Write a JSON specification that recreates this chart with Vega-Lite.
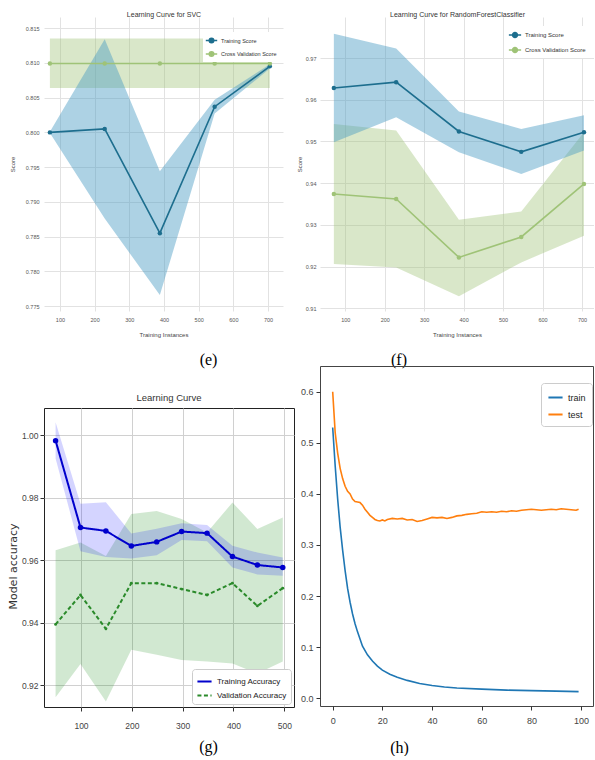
{
  "$schema": "https://vega.github.io/schema/vega-lite/v6.json",
  "padding": {"left": 6, "top": 10, "right": 0, "bottom": 0},
  "background": "white",
  "spacing": 1,
  "resolve": {"scale": {"color": "independent", "strokeDash": "independent"}, "legend": {"color": "independent", "strokeDash": "independent"}},
  "datasets": {
    "e": [
      {"s": "Training Score", "x": 71, "m": 0.8000, "lo": 0.7999, "hi": 0.8001},
      {"s": "Training Score", "x": 229, "m": 0.8005, "lo": 0.7876, "hi": 0.8134},
      {"s": "Training Score", "x": 388, "m": 0.7855, "lo": 0.7766, "hi": 0.7944},
      {"s": "Training Score", "x": 546, "m": 0.8037, "lo": 0.8027, "hi": 0.8047},
      {"s": "Training Score", "x": 705, "m": 0.8095, "lo": 0.8092, "hi": 0.8098},
      {"s": "Cross Validation Score", "x": 71, "m": 0.8099, "lo": 0.8064, "hi": 0.8135},
      {"s": "Cross Validation Score", "x": 229, "m": 0.8099, "lo": 0.8064, "hi": 0.8135},
      {"s": "Cross Validation Score", "x": 388, "m": 0.8099, "lo": 0.8064, "hi": 0.8135},
      {"s": "Cross Validation Score", "x": 546, "m": 0.8099, "lo": 0.8064, "hi": 0.8135},
      {"s": "Cross Validation Score", "x": 705, "m": 0.8099, "lo": 0.8064, "hi": 0.8135}
    ],
    "f": [
      {"s": "Training Score", "x": 71, "m": 0.9628, "lo": 0.9498, "hi": 0.9758},
      {"s": "Training Score", "x": 229, "m": 0.9642, "lo": 0.9558, "hi": 0.9723},
      {"s": "Training Score", "x": 388, "m": 0.9524, "lo": 0.9474, "hi": 0.9572},
      {"s": "Training Score", "x": 546, "m": 0.9475, "lo": 0.9422, "hi": 0.9530},
      {"s": "Training Score", "x": 705, "m": 0.9522, "lo": 0.9478, "hi": 0.9563},
      {"s": "Cross Validation Score", "x": 71, "m": 0.9374, "lo": 0.9206, "hi": 0.9542},
      {"s": "Cross Validation Score", "x": 229, "m": 0.9362, "lo": 0.9198, "hi": 0.9526},
      {"s": "Cross Validation Score", "x": 388, "m": 0.9222, "lo": 0.9129, "hi": 0.9312},
      {"s": "Cross Validation Score", "x": 546, "m": 0.9271, "lo": 0.9210, "hi": 0.9332},
      {"s": "Cross Validation Score", "x": 705, "m": 0.9398, "lo": 0.9274, "hi": 0.9522}
    ],
    "g": [
      {"s": "Training Accuracy", "x": 50, "m": 0.9982, "lo": 0.9925, "hi": 1.0041},
      {"s": "Training Accuracy", "x": 99, "m": 0.9704, "lo": 0.9628, "hi": 0.9780},
      {"s": "Training Accuracy", "x": 149, "m": 0.9693, "lo": 0.9610, "hi": 0.9785},
      {"s": "Training Accuracy", "x": 199, "m": 0.9645, "lo": 0.9605, "hi": 0.9685},
      {"s": "Training Accuracy", "x": 249, "m": 0.9658, "lo": 0.9615, "hi": 0.9700},
      {"s": "Training Accuracy", "x": 298, "m": 0.9691, "lo": 0.9664, "hi": 0.9718},
      {"s": "Training Accuracy", "x": 348, "m": 0.9686, "lo": 0.9660, "hi": 0.9712},
      {"s": "Training Accuracy", "x": 398, "m": 0.9611, "lo": 0.9576, "hi": 0.9646},
      {"s": "Training Accuracy", "x": 447, "m": 0.9584, "lo": 0.9554, "hi": 0.9624},
      {"s": "Training Accuracy", "x": 497, "m": 0.9576, "lo": 0.9550, "hi": 0.9608},
      {"s": "Validation Accuracy", "x": 50, "m": 0.9394, "lo": 0.9161, "hi": 0.9631},
      {"s": "Validation Accuracy", "x": 99, "m": 0.9488, "lo": 0.9267, "hi": 0.9656},
      {"s": "Validation Accuracy", "x": 149, "m": 0.9380, "lo": 0.9147, "hi": 0.9613},
      {"s": "Validation Accuracy", "x": 199, "m": 0.9526, "lo": 0.9313, "hi": 0.9747},
      {"s": "Validation Accuracy", "x": 249, "m": 0.9526, "lo": 0.9297, "hi": 0.9757},
      {"s": "Validation Accuracy", "x": 298, "m": 0.9507, "lo": 0.9280, "hi": 0.9731},
      {"s": "Validation Accuracy", "x": 348, "m": 0.9488, "lo": 0.9275, "hi": 0.9688},
      {"s": "Validation Accuracy", "x": 398, "m": 0.9526, "lo": 0.9269, "hi": 0.9784},
      {"s": "Validation Accuracy", "x": 447, "m": 0.9453, "lo": 0.9237, "hi": 0.9699},
      {"s": "Validation Accuracy", "x": 497, "m": 0.9510, "lo": 0.9275, "hi": 0.9736}
    ],
    "h": [
      {"s": "train", "x": 0, "y": 0.530}, {"s": "train", "x": 1, "y": 0.455}, {"s": "train", "x": 2, "y": 0.390},
      {"s": "train", "x": 3, "y": 0.335}, {"s": "train", "x": 4, "y": 0.290}, {"s": "train", "x": 5, "y": 0.250},
      {"s": "train", "x": 6, "y": 0.215}, {"s": "train", "x": 7, "y": 0.188}, {"s": "train", "x": 8, "y": 0.165},
      {"s": "train", "x": 9, "y": 0.146}, {"s": "train", "x": 10, "y": 0.130}, {"s": "train", "x": 12, "y": 0.102},
      {"s": "train", "x": 14, "y": 0.085}, {"s": "train", "x": 16, "y": 0.073}, {"s": "train", "x": 18, "y": 0.063},
      {"s": "train", "x": 20, "y": 0.055}, {"s": "train", "x": 23, "y": 0.047}, {"s": "train", "x": 26, "y": 0.041},
      {"s": "train", "x": 30, "y": 0.035}, {"s": "train", "x": 35, "y": 0.029}, {"s": "train", "x": 40, "y": 0.025},
      {"s": "train", "x": 45, "y": 0.022}, {"s": "train", "x": 50, "y": 0.020}, {"s": "train", "x": 60, "y": 0.018},
      {"s": "train", "x": 70, "y": 0.016}, {"s": "train", "x": 80, "y": 0.015}, {"s": "train", "x": 90, "y": 0.014},
      {"s": "train", "x": 99, "y": 0.013},
      {"s": "test", "x": 0, "y": 0.600}, {"s": "test", "x": 1, "y": 0.520}, {"s": "test", "x": 2, "y": 0.480},
      {"s": "test", "x": 3, "y": 0.450}, {"s": "test", "x": 4, "y": 0.430}, {"s": "test", "x": 5, "y": 0.415},
      {"s": "test", "x": 6, "y": 0.405}, {"s": "test", "x": 7, "y": 0.400}, {"s": "test", "x": 8, "y": 0.390},
      {"s": "test", "x": 9, "y": 0.385}, {"s": "test", "x": 10, "y": 0.384}, {"s": "test", "x": 11, "y": 0.383},
      {"s": "test", "x": 12, "y": 0.378}, {"s": "test", "x": 13, "y": 0.370}, {"s": "test", "x": 14, "y": 0.364},
      {"s": "test", "x": 15, "y": 0.358}, {"s": "test", "x": 16, "y": 0.354}, {"s": "test", "x": 17, "y": 0.350},
      {"s": "test", "x": 18, "y": 0.348}, {"s": "test", "x": 19, "y": 0.347}, {"s": "test", "x": 20, "y": 0.349},
      {"s": "test", "x": 21, "y": 0.347}, {"s": "test", "x": 22, "y": 0.350}, {"s": "test", "x": 24, "y": 0.352},
      {"s": "test", "x": 26, "y": 0.351}, {"s": "test", "x": 28, "y": 0.352}, {"s": "test", "x": 30, "y": 0.349},
      {"s": "test", "x": 32, "y": 0.350}, {"s": "test", "x": 34, "y": 0.346}, {"s": "test", "x": 36, "y": 0.348},
      {"s": "test", "x": 38, "y": 0.351}, {"s": "test", "x": 40, "y": 0.354}, {"s": "test", "x": 42, "y": 0.353},
      {"s": "test", "x": 44, "y": 0.354}, {"s": "test", "x": 46, "y": 0.352}, {"s": "test", "x": 48, "y": 0.354},
      {"s": "test", "x": 50, "y": 0.357}, {"s": "test", "x": 52, "y": 0.358}, {"s": "test", "x": 54, "y": 0.360},
      {"s": "test", "x": 56, "y": 0.361}, {"s": "test", "x": 58, "y": 0.362}, {"s": "test", "x": 60, "y": 0.365},
      {"s": "test", "x": 62, "y": 0.364}, {"s": "test", "x": 64, "y": 0.365}, {"s": "test", "x": 66, "y": 0.364},
      {"s": "test", "x": 68, "y": 0.366}, {"s": "test", "x": 70, "y": 0.365}, {"s": "test", "x": 72, "y": 0.367},
      {"s": "test", "x": 74, "y": 0.366}, {"s": "test", "x": 76, "y": 0.368}, {"s": "test", "x": 78, "y": 0.369},
      {"s": "test", "x": 80, "y": 0.370}, {"s": "test", "x": 82, "y": 0.369}, {"s": "test", "x": 84, "y": 0.368},
      {"s": "test", "x": 86, "y": 0.369}, {"s": "test", "x": 88, "y": 0.370}, {"s": "test", "x": 90, "y": 0.369},
      {"s": "test", "x": 92, "y": 0.371}, {"s": "test", "x": 94, "y": 0.370}, {"s": "test", "x": 96, "y": 0.369},
      {"s": "test", "x": 98, "y": 0.368}, {"s": "test", "x": 99, "y": 0.370}
    ]
  },
  "hconcat": [
    {
      "bounds": "flush",
      "spacing": 97,
      "resolve": {"scale": {"color": "independent", "strokeDash": "independent"}, "legend": {"color": "independent", "strokeDash": "independent"}},
      "vconcat": [
        {
          "width": 239, "height": 294,
          "data": {"name": "e"},
          "view": {"stroke": null},
          "title": {"text": "(e)", "orient": "bottom", "anchor": "middle", "frame": "group", "dx": 45, "offset": 15, "font": "Liberation Serif", "fontSize": 16, "fontWeight": "normal", "color": "#000"},
          "resolve": {"axis": {"x": "independent"}},
          "layer": [
            {
              "transform": [{"filter": "datum.s === 'Cross Validation Score'"}],
              "mark": {"type": "area", "color": "#9fc377", "opacity": 0.4},
              "encoding": {
                "x": {"field": "x", "type": "quantitative", "scale": {"domain": [54, 743], "nice": false, "zero": false},
                  "axis": {"values": [100, 200, 300, 400, 500, 600, 700], "tickCount": 50, "format": "d", "title": "Training Instances", "grid": true, "gridColor": "#e2e2e2", "domain": false, "ticks": false, "labelOverlap": false, "labelFontSize": 5.5, "labelColor": "#555", "labelFont": "Liberation Sans", "labelPadding": 6.5, "titleFont": "Liberation Sans", "titleFontSize": 6, "titleFontWeight": "normal", "titleColor": "#444", "titlePadding": 8}},
                "y": {"field": "lo", "type": "quantitative", "scale": {"domain": [0.7743, 0.8166], "nice": false, "zero": false},
                  "axis": {"values": [0.775, 0.78, 0.785, 0.79, 0.795, 0.8, 0.805, 0.81, 0.815], "tickCount": 50, "format": ".3f", "title": "Score", "grid": true, "gridColor": "#e2e2e2", "domain": false, "ticks": false, "labelOverlap": false, "labelFontSize": 5.5, "labelColor": "#555", "labelFont": "Liberation Sans", "labelPadding": 5, "titleFont": "Liberation Sans", "titleFontSize": 6, "titleFontWeight": "normal", "titleColor": "#444", "titlePadding": 10}},
                "y2": {"field": "hi"}
              }
            },
            {
              "transform": [{"filter": "datum.s === 'Training Score'"}],
              "mark": {"type": "area", "color": "#4a9cc4", "opacity": 0.45},
              "encoding": {
                "x": {"field": "x", "type": "quantitative", "axis": null},
                "y": {"field": "lo", "type": "quantitative"},
                "y2": {"field": "hi"}
              }
            },
            {
              "mark": {"type": "line", "strokeWidth": 1.6, "point": {"filled": true, "size": 20}},
              "encoding": {
                "x": {"field": "x", "type": "quantitative", "axis": null},
                "y": {"field": "m", "type": "quantitative"},
                "color": {"field": "s", "type": "nominal", "scale": {"domain": ["Training Score", "Cross Validation Score"], "range": ["#1d6e8e", "#9fc377"]},
                  "legend": {"orient": "none", "legendX": 159, "legendY": 15, "title": null, "labelFont": "Liberation Sans", "labelFontSize": 5.5, "labelColor": "#333", "symbolType": "M-1,0H1M0.4,0A0.4,0.4,0,1,1,-0.4,0A0.4,0.4,0,1,1,0.4,0", "symbolSize": 130, "symbolStrokeWidth": 1.5, "rowPadding": 1.5, "labelOffset": 3, "fillColor": "#ffffff", "padding": 2,
                    "encode": {"symbols": {"update": {"fill": {"signal": "datum.value === 'Training Score' ? '#1d6e8e' : '#9fc377'"}}}}}}
              }
            },
            {
              "mark": {"type": "point", "opacity": 0},
              "encoding": {
                "x": {"field": "x", "type": "quantitative", "axis": {"orient": "top", "labels": false, "ticks": false, "domain": false, "grid": false, "title": "Learning Curve for SVC", "titleFont": "Liberation Sans", "titleFontSize": 7, "titleFontWeight": "normal", "titleColor": "#333", "titlePadding": 0}},
                "y": {"field": "m", "type": "quantitative"}
              }
            }
          ]
        },
        {
          "width": 250, "height": 299,
          "data": {"name": "g"},
          "view": {"stroke": "#222", "strokeWidth": 1},
          "title": {"text": "Learning Curve", "font": "Liberation Sans", "fontSize": 9.5, "fontWeight": "normal", "color": "#333", "offset": 6},
          "layer": [
            {
              "transform": [{"filter": "datum.s === 'Validation Accuracy'"}],
              "mark": {"type": "area", "color": "#008000", "opacity": 0.18},
              "encoding": {
                "x": {"field": "x", "type": "quantitative", "scale": {"domain": [27.2, 519.1], "nice": false, "zero": false},
                  "axis": {"values": [100, 200, 300, 400, 500], "tickCount": 50, "format": "d", "title": "(g)", "grid": true, "gridColor": "#d0d0d0", "domain": false, "tickColor": "#333", "tickSize": 4, "labelFontSize": 8.5, "labelColor": "#444", "labelFont": "Liberation Sans", "labelPadding": 10, "titleFont": "Liberation Serif", "titleFontSize": 16, "titleFontWeight": "normal", "titleColor": "#000", "titlePadding": 9, "titleX": 164}},
                "y": {"field": "lo", "type": "quantitative", "scale": {"domain": [0.91296, 1.00864], "nice": false, "zero": false},
                  "axis": {"values": [0.92, 0.94, 0.96, 0.98, 1.0], "tickCount": 50, "format": ".2f", "title": "Model accuracy", "titleY": 158, "grid": true, "gridColor": "#d0d0d0", "domain": false, "tickColor": "#333", "tickSize": 4, "labelFontSize": 8.5, "labelColor": "#444", "labelFont": "Liberation Sans", "labelPadding": 2, "titleFont": "DejaVu Sans", "titleFontSize": 11, "titleFontWeight": "normal", "titleColor": "#333", "titlePadding": 3}},
                "y2": {"field": "hi"}
              }
            },
            {
              "transform": [{"filter": "datum.s === 'Training Accuracy'"}],
              "mark": {"type": "area", "color": "#0000ff", "opacity": 0.17},
              "encoding": {
                "x": {"field": "x", "type": "quantitative"},
                "y": {"field": "lo", "type": "quantitative"},
                "y2": {"field": "hi"}
              }
            },
            {
              "mark": {"type": "line", "strokeWidth": 2},
              "encoding": {
                "x": {"field": "x", "type": "quantitative"},
                "y": {"field": "m", "type": "quantitative"},
                "color": {"field": "s", "type": "nominal", "scale": {"domain": ["Training Accuracy", "Validation Accuracy"], "range": ["#0000cc", "#2a8a2a"]},
                  "legend": {"orient": "bottom-right", "offset": 3, "title": null, "labelFont": "Liberation Sans", "labelFontSize": 8, "labelColor": "#222", "symbolType": "stroke", "symbolSize": 200, "symbolStrokeWidth": 2.2, "rowPadding": 1, "fillColor": "#ffffff", "strokeColor": "#cccccc", "padding": 4, "cornerRadius": 3}},
                "strokeDash": {"field": "s", "type": "nominal", "scale": {"domain": ["Training Accuracy", "Validation Accuracy"], "range": [[1, 0], [4, 2.5]]},
                  "legend": {"orient": "bottom-right", "offset": 3, "title": null, "labelFont": "Liberation Sans", "labelFontSize": 8, "labelColor": "#222", "symbolType": "stroke", "symbolSize": 200, "symbolStrokeWidth": 2.2, "rowPadding": 1, "fillColor": "#ffffff", "strokeColor": "#cccccc", "padding": 4, "cornerRadius": 3}}
              }
            },
            {
              "transform": [{"filter": "datum.s === 'Training Accuracy'"}],
              "mark": {"type": "point", "filled": true, "size": 30, "color": "#0000cc", "opacity": 1},
              "encoding": {
                "x": {"field": "x", "type": "quantitative"},
                "y": {"field": "m", "type": "quantitative"}
              }
            },
            {
              "transform": [{"filter": "datum.s === 'Validation Accuracy'"}],
              "mark": {"type": "point", "filled": true, "size": 8, "color": "#2a8a2a", "opacity": 1},
              "encoding": {
                "x": {"field": "x", "type": "quantitative"},
                "y": {"field": "m", "type": "quantitative"}
              }
            }
          ]
        }
      ]
    },
    {
      "bounds": "flush",
      "spacing": 55,
      "resolve": {"scale": {"color": "independent", "strokeDash": "independent"}, "legend": {"color": "independent", "strokeDash": "independent"}},
      "vconcat": [
        {
          "width": 274, "height": 294,
          "data": {"name": "f"},
          "view": {"stroke": null},
          "title": {"text": "(f)", "orient": "bottom", "anchor": "middle", "frame": "group", "dx": -58, "offset": 15, "font": "Liberation Serif", "fontSize": 16, "fontWeight": "normal", "color": "#000"},
          "resolve": {"axis": {"x": "independent"}},
          "layer": [
            {
              "transform": [{"filter": "datum.s === 'Cross Validation Score'"}],
              "mark": {"type": "area", "color": "#9fc377", "opacity": 0.4},
              "encoding": {
                "x": {"field": "x", "type": "quantitative", "scale": {"domain": [35.9, 730.4], "nice": false, "zero": false},
                  "axis": {"values": [100, 200, 300, 400, 500, 600, 700], "tickCount": 50, "format": "d", "title": "Training Instances", "grid": true, "gridColor": "#e2e2e2", "domain": false, "ticks": false, "labelOverlap": false, "labelFontSize": 5.5, "labelColor": "#555", "labelFont": "Liberation Sans", "labelPadding": 6.5, "titleFont": "Liberation Sans", "titleFontSize": 6, "titleFontWeight": "normal", "titleColor": "#444", "titlePadding": 8}},
                "y": {"field": "lo", "type": "quantitative", "scale": {"domain": [0.90935, 0.97983], "nice": false, "zero": false},
                  "axis": {"values": [0.91, 0.92, 0.93, 0.94, 0.95, 0.96, 0.97], "tickCount": 50, "format": ".2f", "title": "Score", "grid": true, "gridColor": "#e2e2e2", "domain": false, "ticks": false, "labelOverlap": false, "labelFontSize": 5.5, "labelColor": "#555", "labelFont": "Liberation Sans", "labelPadding": 4, "titleFont": "Liberation Sans", "titleFontSize": 6, "titleFontWeight": "normal", "titleColor": "#444", "titlePadding": 3}},
                "y2": {"field": "hi"}
              }
            },
            {
              "transform": [{"filter": "datum.s === 'Training Score'"}],
              "mark": {"type": "area", "color": "#4a9cc4", "opacity": 0.45},
              "encoding": {
                "x": {"field": "x", "type": "quantitative", "axis": null},
                "y": {"field": "lo", "type": "quantitative"},
                "y2": {"field": "hi"}
              }
            },
            {
              "mark": {"type": "line", "strokeWidth": 1.6, "point": {"filled": true, "size": 20}},
              "encoding": {
                "x": {"field": "x", "type": "quantitative", "axis": null},
                "y": {"field": "m", "type": "quantitative"},
                "color": {"field": "s", "type": "nominal", "scale": {"domain": ["Training Score", "Cross Validation Score"], "range": ["#1d6e8e", "#9fc377"]},
                  "legend": {"orient": "none", "legendX": 186, "legendY": 9, "title": null, "labelFont": "Liberation Sans", "labelFontSize": 6, "labelColor": "#333", "symbolType": "M-1,0H1M0.4,0A0.4,0.4,0,1,1,-0.4,0A0.4,0.4,0,1,1,0.4,0", "symbolSize": 150, "symbolStrokeWidth": 1.5, "rowPadding": 2, "labelOffset": 3, "fillColor": "#ffffff", "padding": 2,
                    "encode": {"symbols": {"update": {"fill": {"signal": "datum.value === 'Training Score' ? '#1d6e8e' : '#9fc377'"}}}}}}
              }
            },
            {
              "mark": {"type": "point", "opacity": 0},
              "encoding": {
                "x": {"field": "x", "type": "quantitative", "axis": {"orient": "top", "labels": false, "ticks": false, "domain": false, "grid": false, "title": "Learning Curve for RandomForestClassifier", "titleFont": "Liberation Sans", "titleFontSize": 7, "titleFontWeight": "normal", "titleColor": "#333", "titlePadding": 0}},
                "y": {"field": "m", "type": "quantitative"}
              }
            }
          ]
        },
        {
          "width": 273, "height": 340,
          "data": {"name": "h"},
          "view": {"stroke": "#444", "strokeWidth": 1},
          "mark": {"type": "line", "strokeWidth": 1.6},
          "encoding": {
            "x": {"field": "x", "type": "quantitative", "scale": {"domain": [-5.11, 104.8], "nice": false, "zero": false},
              "axis": {"values": [0, 20, 40, 60, 80, 100], "tickCount": 50, "format": "d", "title": "(h)", "grid": false, "domain": false, "tickColor": "#333", "tickSize": 4, "labelFontSize": 9, "labelColor": "#444", "labelFont": "Liberation Sans", "labelPadding": 6.5, "titleFont": "Liberation Serif", "titleFontSize": 16, "titleFontWeight": "normal", "titleColor": "#000", "titlePadding": 14, "titleX": 79}},
            "y": {"field": "y", "type": "quantitative", "scale": {"domain": [-0.0151, 0.6503], "nice": false, "zero": false},
              "axis": {"values": [0, 0.1, 0.2, 0.3, 0.4, 0.5, 0.6], "tickCount": 50, "format": ".1f", "title": null, "grid": false, "domain": false, "tickColor": "#333", "tickSize": 4, "labelFontSize": 9, "labelColor": "#444", "labelFont": "Liberation Sans", "labelPadding": 3}},
            "color": {"field": "s", "type": "nominal", "scale": {"domain": ["train", "test"], "range": ["#1f77b4", "#ff7f0e"]},
              "legend": {"orient": "none", "legendX": 221, "legendY": 17, "title": null, "labelFont": "Liberation Sans", "labelFontSize": 9, "labelColor": "#222", "symbolType": "stroke", "symbolSize": 200, "symbolStrokeWidth": 2, "rowPadding": 3, "fillColor": "#ffffff", "strokeColor": "#cccccc", "padding": 6, "cornerRadius": 3}}
          }
        }
      ]
    }
  ]
}
